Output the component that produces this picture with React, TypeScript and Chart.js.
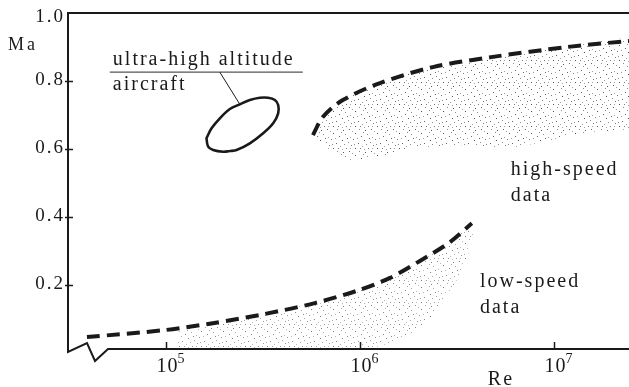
import React, { useEffect, useRef } from 'react';
import { Chart, registerables } from 'chart.js';

Chart.register(...registerables);

// ---- axes ----
const RE_MIN = 3.13e4;
const RE_MAX = 2.44e7;
const MA_MIN = 0.012;
const MA_MAX = 1.0;
const X_TICKS = [1e5, 1e6, 1e7];
const X_TICK_BASE = ['10', '10', '10'];
const X_TICK_EXP = ['5', '6', '7'];
const Y_TICKS = [0.2, 0.4, 0.6, 0.8, 1.0];
const Y_TICK_LABELS = ['0.2', '0.4', '0.6', '0.8', '1.0'];

// ---- low-speed envelope (dashed) ----
const LOW_EDGE_RE = [3.92e4, 1.0e5, 1.747e5, 3.24e5, 5.86e5, 9.88e5, 1.43e6, 2.04e6, 2.91e6, 3.78e6];
const LOW_EDGE_MA = [0.047, 0.068, 0.088, 0.115, 0.147, 0.185, 0.221, 0.271, 0.326, 0.382];

// ---- high-speed envelope (dashed) ----
const HIGH_EDGE_RE = [5.73e5, 6.44e5, 8.17e5, 1.27e6, 2.38e6, 4.85e6, 1.17e7, 2.44e7];
const HIGH_EDGE_MA = [0.641, 0.694, 0.744, 0.794, 0.841, 0.871, 0.9, 0.918];

// ---- lower limit of the high-speed data cloud (right to left) ----
const HIGH_LOWER_RE = [2.44e7, 2.11e7, 1.41e7, 9.5e6, 6.4e6, 4.5e6, 3.6e6, 2.6e6, 1.8e6, 1.3e6, 8.9e5, 7.3e5, 6.2e5];
const HIGH_LOWER_MA = [0.662, 0.656, 0.647, 0.626, 0.606, 0.606, 0.612, 0.606, 0.603, 0.576, 0.568, 0.588, 0.626];

// ---- lower / right limit of the low-speed data cloud ----
const LOW_CLOUD_START_RE = 1.18e5;
const LOW_LOWER_RE = [3.82e6, 3.56e6, 3.16e6, 2.68e6, 2.3e6, 1.97e6, 1.61e6, 1.17e6, 1.18e5, 1.18e5];
const LOW_LOWER_MA = [0.332, 0.282, 0.215, 0.156, 0.097, 0.068, 0.038, 0.018, 0.012, 0.072];

// ---- ultra-high altitude aircraft region (outline) ----
const ELLIPSE_RE = [2.137e5, 2.314e5, 2.71e5, 3.174e5, 3.574e5, 3.793e5, 3.793e5, 3.647e5, 3.368e5, 3.052e5,
  2.71e5, 2.406e5, 2.137e5, 1.898e5, 1.72e5, 1.633e5, 1.621e5, 1.652e5, 1.753e5, 1.974e5, 2.137e5];
const ELLIPSE_MA = [0.594, 0.597, 0.6168, 0.6462, 0.6756, 0.705, 0.7294, 0.7441, 0.7509, 0.7509,
  0.7441, 0.7315, 0.7176, 0.6903, 0.6609, 0.6362, 0.6315, 0.6068, 0.597, 0.592, 0.594];
const LEADER_RE = [2.406e5, 1.897e5];
const LEADER_MA = [0.7315, 0.826];
const UNDERLINE_RE = [5.14e4, 5.08e5];
const UNDERLINE_MA = [0.826, 0.826];

// ---- text annotations ----
const NOTE_TEXT = ['ultra-high altitude', 'aircraft', 'high-speed', 'data', 'low-speed', 'data'];
const NOTE_RE = [5.33e4, 5.33e4, 6.0e6, 6.0e6, 4.16e6, 4.16e6];
const NOTE_MA = [0.847, 0.774, 0.5235, 0.447, 0.195, 0.118];

const SERIF = '"Liberation Serif", "Times New Roman", serif';
const INK = '#1a1a1a';

const pts = (xs: number[], ys: number[]) => xs.map((x, i) => ({ x, y: ys[i] }));

// stipple tile (style only)
const TILE = 22;
const TILE_DOTS: [number, number, number][] = [
  [3, 1, 0.9], [15, 2, 0.6], [9, 4, 0.8], [20, 5, 0.5], [1, 7, 0.7], [12, 8, 0.9],
  [18, 10, 0.6], [6, 11, 0.8], [21, 13, 0.7], [10, 14, 0.5], [3, 16, 0.9], [16, 16, 0.7],
  [19, 19, 0.8], [7, 19, 0.6], [13, 20, 0.9], [0, 21, 0.5], [5, 6, 0.5], [17, 6, 0.8],
  [14, 12, 0.6], [8, 16, 0.7], [11, 0, 0.6], [2, 12, 0.6], [20, 16, 0.5], [12, 17, 0.5],
];

function makePattern(ctx: CanvasRenderingContext2D, alphaScale: number) {
  const c = document.createElement('canvas');
  c.width = TILE;
  c.height = TILE;
  const t = c.getContext('2d')!;
  TILE_DOTS.forEach(([x, y, a]) => {
    t.fillStyle = `rgba(30,30,30,${a * alphaScale})`;
    t.fillRect(x, y, 1, 1);
  });
  return ctx.createPattern(c, 'repeat')!;
}

function drawText(ctx: CanvasRenderingContext2D, text: string, x: number, y: number, size: number, spacing: number,
  align: CanvasTextAlign = 'left', baseline: CanvasTextBaseline = 'alphabetic') {
  ctx.font = `${size}px ${SERIF}`;
  (ctx as any).letterSpacing = `${spacing}px`;
  ctx.textAlign = align;
  ctx.textBaseline = baseline;
  ctx.fillStyle = INK;
  ctx.fillText(text, x, y);
}

const decor = {
  id: 'decor',
  afterDraw(chart: any) {
    const { ctx, chartArea, scales } = chart;
    const { left, top, right, bottom } = chartArea;
    const xs = scales.x;
    const ys = scales.y;
    ctx.save();
    ctx.strokeStyle = INK;
    ctx.lineWidth = 2;
    ctx.lineJoin = 'miter';
    ctx.beginPath();
    ctx.moveTo(right, top);
    ctx.lineTo(left, top);
    ctx.lineTo(left, bottom + 3);
    ctx.lineTo(left + 19, bottom - 6);
    ctx.lineTo(left + 27, bottom + 12);
    ctx.lineTo(left + 40, bottom);
    ctx.lineTo(right, bottom);
    ctx.stroke();

    ctx.lineWidth = 1.5;
    Y_TICKS.forEach((v, i) => {
      const py = ys.getPixelForValue(v);
      if (v < MA_MAX) {
        const p = Math.round(py) + 0.5;
        ctx.beginPath();
        ctx.moveTo(left - 3, p);
        ctx.lineTo(left + 5, p);
        ctx.stroke();
      }
      drawText(ctx, Y_TICK_LABELS[i], left - 3, Math.max(py - 1, top + 4), 19, 2, 'right', 'middle');
    });
    X_TICKS.forEach((v, i) => {
      const px = Math.round(xs.getPixelForValue(v)) + 0.5;
      ctx.beginPath();
      ctx.moveTo(px, bottom);
      ctx.lineTo(px, bottom - 7);
      ctx.stroke();
      drawText(ctx, X_TICK_BASE[i], px + 1, bottom + 23, 20, 1, 'center', 'alphabetic');
      drawText(ctx, X_TICK_EXP[i], px + 11, bottom + 14, 14, 0, 'left', 'alphabetic');
    });

    NOTE_TEXT.forEach((t, i) => {
      drawText(ctx, t, xs.getPixelForValue(NOTE_RE[i]), ys.getPixelForValue(NOTE_MA[i]), 20, 2, 'left');
    });

    drawText(ctx, 'Ma', left - 60, top + 37, 18, 3, 'left');
    drawText(ctx, 'Re', xs.getPixelForValue(4.57e6), bottom + 36, 20, 2, 'left');
    (ctx as any).letterSpacing = '0px';
    ctx.restore();
  },
};

export default function App() {
  const ref = useRef<HTMLCanvasElement>(null);
  useEffect(() => {
    const canvas = ref.current!;
    const ctx = canvas.getContext('2d')!;
    const highPattern = makePattern(ctx, 0.85);
    const lowPattern = makePattern(ctx, 0.65);

    const highCloud = [...pts(HIGH_EDGE_RE, HIGH_EDGE_MA), ...pts(HIGH_LOWER_RE, HIGH_LOWER_MA)];
    const lowTop = pts(LOW_EDGE_RE, LOW_EDGE_MA).filter((p) => p.x > LOW_CLOUD_START_RE);
    const lowCloud = [...lowTop, ...pts(LOW_LOWER_RE, LOW_LOWER_MA)];

    const line = (data: any[], extra: any) => ({
      data,
      showLine: true,
      pointRadius: 0,
      pointHoverRadius: 0,
      fill: false,
      borderColor: INK,
      ...extra,
    });

    const chart = new Chart(ctx, {
      type: 'scatter',
      data: {
        datasets: [
          line(pts(LOW_EDGE_RE, LOW_EDGE_MA), { borderWidth: 4, borderDash: [13, 7], borderCapStyle: 'butt', tension: 0.3 }),
          line(pts(HIGH_EDGE_RE, HIGH_EDGE_MA), { borderWidth: 4, borderDash: [13, 7], borderCapStyle: 'butt', tension: 0.3 }),
          line(pts(ELLIPSE_RE, ELLIPSE_MA), { borderWidth: 2.6, tension: 0.35 }),
          line(pts(LEADER_RE, LEADER_MA), { borderWidth: 1 }),
          line(pts(UNDERLINE_RE, UNDERLINE_MA), { borderWidth: 1.2, borderColor: '#555' }),
          line(highCloud, { borderWidth: 0, borderColor: 'rgba(0,0,0,0)', fill: 'shape', backgroundColor: highPattern, tension: 0.2 }),
          line(lowCloud, { borderWidth: 0, borderColor: 'rgba(0,0,0,0)', fill: 'shape', backgroundColor: lowPattern, tension: 0.2 }),
        ],
      },
      options: {
        animation: false,
        responsive: false,
        devicePixelRatio: 1,
        layout: { padding: { top: 13, right: 0, left: 0, bottom: 0 } },
        plugins: { legend: { display: false }, tooltip: { enabled: false } },
        events: [],
        scales: {
          x: {
            type: 'logarithmic',
            min: RE_MIN,
            max: RE_MAX,
            grid: { display: false, drawTicks: false },
            border: { display: false },
            ticks: { display: false },
            afterBuildTicks: (s: any) => { s.ticks = X_TICKS.map((v) => ({ value: v })); },
            afterFit: (s: any) => { s.height = 38; },
          },
          y: {
            type: 'linear',
            min: MA_MIN,
            max: MA_MAX,
            grid: { display: false, drawTicks: false },
            border: { display: false },
            ticks: { display: false },
            afterBuildTicks: (s: any) => { s.ticks = Y_TICKS.map((v) => ({ value: v })); },
            afterFit: (s: any) => { s.width = 68; },
          },
        },
      },
      plugins: [decor],
    } as any);
    return () => chart.destroy();
  }, []);

  return (
    <div style={{ position: 'fixed', left: 0, top: 0, width: 629, height: 387, background: '#fff' }}>
      <canvas ref={ref} width={629} height={387} style={{ display: 'block' }} />
    </div>
  );
}
